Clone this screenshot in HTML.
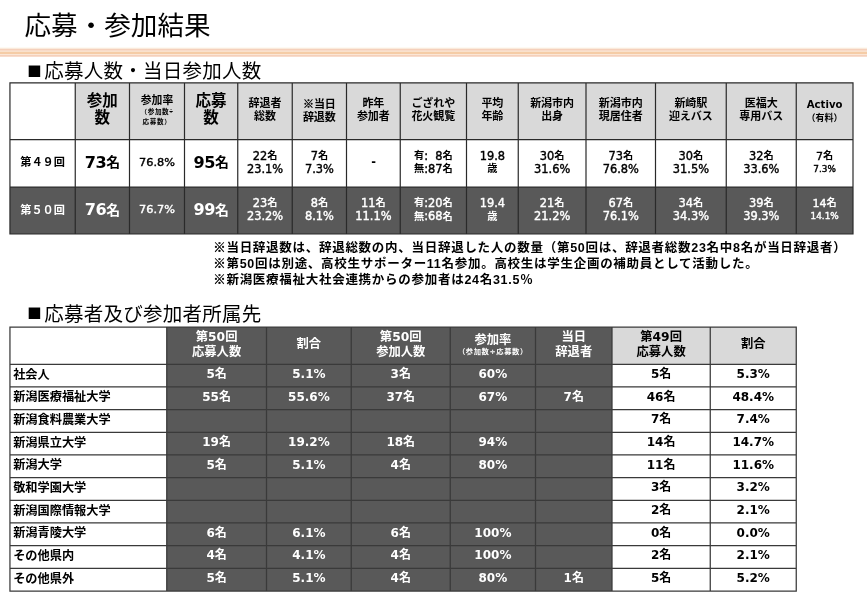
<!DOCTYPE html>
<html lang="ja"><head><meta charset="utf-8"><title>応募・参加結果</title>
<style>
html,body{margin:0;padding:0}
body{width:867px;height:600px;position:relative;overflow:hidden;background:#fff;color:#000;
font-family:"Liberation Sans","Noto Sans CJK JP",sans-serif}
.c{position:absolute;display:flex;align-items:center;justify-content:center;text-align:center;font-weight:bold;white-space:nowrap}
.c>div{position:relative}
.n{font-family:"DejaVu Sans","Noto Sans CJK JP",sans-serif}
.t1{letter-spacing:-0.5px}
.m{font-weight:normal;letter-spacing:0;-webkit-text-stroke:0.4px currentColor}
.m .j{font-weight:bold;-webkit-text-stroke:0}
.t1 .j{letter-spacing:0;position:relative;top:-0.8px}
.j{font-family:"Liberation Sans","Noto Sans CJK JP",sans-serif}
.w{color:#fff}
.k{font-family:"Noto Sans CJK JP",sans-serif;-webkit-text-stroke:0.35px currentColor}
.l{justify-content:flex-start;text-align:left}
h1,h2,p{margin:0;position:absolute;white-space:nowrap;font-weight:normal}
h1,h2{font-family:"Noto Sans CJK JP",sans-serif}
.sq{display:inline-block;width:19.7px;font-size:14.4px;text-align:center;vertical-align:2.7px;letter-spacing:0;margin-left:-0.5px}
.sp{display:inline-block;width:7.4px}
svg{position:absolute;left:0;top:0}
</style></head><body>
<svg width="867" height="600" viewBox="0 0 867 600">
<rect x="0" y="47.4" width="867" height="1.4" fill="#fef7ec"/>
<rect x="0" y="48.6" width="867" height="8" fill="#fbe6d6"/>
<rect x="0" y="48.8" width="867" height="1.7" fill="#f5d0bb"/>
<rect x="0" y="51.8" width="867" height="2.2" fill="#f5cca6"/>
<rect x="0" y="55.0" width="867" height="1.6" fill="#f5d0bb"/>
<rect x="75.25" y="82.8" width="777.75" height="56.8" fill="#d9d9d9"/>
<rect x="9.95" y="187.1" width="843.05" height="46.900000000000006" fill="#595959"/>
<rect x="166.75" y="327.1" width="445.25" height="263.9" fill="#595959"/>
<rect x="612" y="327.1" width="184.25" height="37.19999999999999" fill="#d9d9d9"/>
<path d="M9.95 82.2V234.6M75.25 82.2V234.6M129.5 82.2V234.6M184.5 82.2V234.6M237.75 82.2V234.6M292.25 82.2V234.6M346.5 82.2V234.6M400.25 82.2V234.6M466.5 82.2V234.6M518.25 82.2V234.6M586 82.2V234.6M655.5 82.2V234.6M726.25 82.2V234.6M796.25 82.2V234.6M853 82.2V234.6M9.35 82.8H853.6M9.35 139.6H853.6M9.35 187.1H853.6M9.35 234H853.6" stroke="#2a2a2a" stroke-width="1.2" fill="none"/>
<path d="M9.95 326.475V591.625M166.75 326.475V591.625M266.5 326.475V591.625M351.25 326.475V591.625M450.25 326.475V591.625M535.5 326.475V591.625M612 326.475V591.625M710.25 326.475V591.625M796.25 326.475V591.625M9.325 327.1H796.875M9.325 364.3H796.875M9.325 386.97H796.875M9.325 409.64H796.875M9.325 432.31H796.875M9.325 454.98H796.875M9.325 477.65H796.875M9.325 500.32H796.875M9.325 522.99H796.875M9.325 545.66H796.875M9.325 568.33H796.875M9.325 591.0H796.875" stroke="#3a3a3a" stroke-width="1.25" fill="none"/>
</svg>
<h1 style="left:24.5px;top:3px;transform:translateY(0.5px);font-size:26.6px;line-height:40px">応募・参加結果</h1>
<h2 style="left:25px;top:56px;transform:translateY(0.6px);font-size:19.5px;letter-spacing:0.25px;line-height:26px"><span class="sq" style="vertical-align:1.3px">■</span>応募人数・当日参加人数</h2>
<h2 style="left:25px;top:299px;transform:translateY(0.5px);font-size:19.5px;letter-spacing:0.25px;line-height:26px"><span class="sq" style="vertical-align:2.2px">■</span>応募者及び参加者所属先</h2>
<div class="c " style="left:75.25px;top:82.8px;width:54.25px;height:56.8px"><div style="top:-1.8px;font-size:15.5px;line-height:17.6px">参加<br>数</div></div>
<div class="c " style="left:129.5px;top:82.8px;width:55.0px;height:56.8px"><div style="top:-1.2px;font-size:10.8px;line-height:12px">参加率<br><span style="font-size:6.6px;letter-spacing:0.6px;line-height:9.4px;display:block;margin-top:1.5px">（参加数÷<br>応募数）</span></div></div>
<div class="c " style="left:184.5px;top:82.8px;width:53.25px;height:56.8px"><div style="top:-1.8px;font-size:15.5px;line-height:17.6px">応募<br>数</div></div>
<div class="c " style="left:237.75px;top:82.8px;width:54.5px;height:56.8px"><div style="top:-0.9px;font-size:11px;line-height:13.2px">辞退者<br>総数</div></div>
<div class="c " style="left:292.25px;top:82.8px;width:54.25px;height:56.8px"><div style="top:-0.9px;font-size:11px;line-height:13.2px"><span class="k">※</span>当日<br>辞退数</div></div>
<div class="c " style="left:346.5px;top:82.8px;width:53.75px;height:56.8px"><div style="top:-0.9px;font-size:11px;line-height:13.2px">昨年<br>参加者</div></div>
<div class="c " style="left:400.25px;top:82.8px;width:66.25px;height:56.8px"><div style="top:-0.9px;font-size:11px;line-height:13.2px">ござれや<br>花火観覧</div></div>
<div class="c " style="left:466.5px;top:82.8px;width:51.75px;height:56.8px"><div style="top:-0.9px;font-size:11px;line-height:13.2px">平均<br>年齢</div></div>
<div class="c " style="left:518.25px;top:82.8px;width:67.75px;height:56.8px"><div style="top:-0.9px;font-size:11px;line-height:13.2px">新潟市内<br>出身</div></div>
<div class="c " style="left:586px;top:82.8px;width:69.5px;height:56.8px"><div style="top:-0.9px;font-size:11px;line-height:13.2px">新潟市内<br>現居住者</div></div>
<div class="c " style="left:655.5px;top:82.8px;width:70.75px;height:56.8px"><div style="top:-0.9px;font-size:11px;line-height:13.2px">新崎駅<br>迎えバス</div></div>
<div class="c " style="left:726.25px;top:82.8px;width:70.0px;height:56.8px"><div style="top:-0.9px;font-size:11px;line-height:13.2px">医福大<br>専用バス</div></div>
<div class="c " style="left:796.25px;top:82.8px;width:56.75px;height:56.8px"><div style="top:0.5px;font-size:11px;line-height:13.2px"><span class="n" style="display:block;font-size:10.1px;line-height:12.9px">Activo</span><span style="display:block;font-size:9px;line-height:12.9px">（有料）</span></div></div>
<div class="c " style="left:9.95px;top:139.6px;width:65.3px;height:47.5px"><div style="top:-1px;font-size:11.2px;line-height:14px">第４９回</div></div>
<div class="c  n t1" style="left:75.25px;top:139.6px;width:54.25px;height:47.5px"><div style="top:-0.2px;font-size:16.1px;line-height:20px">73<span class="j" style="font-size:13.9px">名</span></div></div>
<div class="c  n t1 m" style="left:129.5px;top:139.6px;width:55.0px;height:47.5px"><div style="top:-0.2px;font-size:11.3px;line-height:14px">76.8%</div></div>
<div class="c  n t1" style="left:184.5px;top:139.6px;width:53.25px;height:47.5px"><div style="top:-0.2px;font-size:16.1px;line-height:20px">95<span class="j" style="font-size:13.9px">名</span></div></div>
<div class="c  n t1 m" style="left:237.75px;top:139.6px;width:54.5px;height:47.5px"><div style="top:-0.2px;font-size:11.4px;line-height:13.5px">22<span class="j" style="font-size:10.2px">名</span><br>23.1%</div></div>
<div class="c  n t1 m" style="left:292.25px;top:139.6px;width:54.25px;height:47.5px"><div style="top:-0.2px;font-size:11.4px;line-height:13.5px">7<span class="j" style="font-size:10.2px">名</span><br>7.3%</div></div>
<div class="c  n t1" style="left:346.5px;top:139.6px;width:53.75px;height:47.5px"><div style="top:-0.2px;font-size:11.4px;line-height:13.5px">-</div></div>
<div class="c  n t1 m" style="left:400.25px;top:139.6px;width:66.25px;height:47.5px"><div style="top:-0.2px;font-size:11.4px;line-height:13.5px"><span class="j" style="font-size:10.2px">有</span>:<span class="sp"></span>8<span class="j" style="font-size:10.2px">名</span><br><span class="j" style="font-size:10.2px">無</span>:87<span class="j" style="font-size:10.2px">名</span></div></div>
<div class="c  n t1 m" style="left:466.5px;top:139.6px;width:51.75px;height:47.5px"><div style="top:-0.2px;font-size:11.4px;line-height:13.5px">19.8<br><span class="j" style="font-size:10.2px">歳</span></div></div>
<div class="c  n t1 m" style="left:518.25px;top:139.6px;width:67.75px;height:47.5px"><div style="top:-0.2px;font-size:11.4px;line-height:13.5px">30<span class="j" style="font-size:10.2px">名</span><br>31.6%</div></div>
<div class="c  n t1 m" style="left:586px;top:139.6px;width:69.5px;height:47.5px"><div style="top:-0.2px;font-size:11.4px;line-height:13.5px">73<span class="j" style="font-size:10.2px">名</span><br>76.8%</div></div>
<div class="c  n t1 m" style="left:655.5px;top:139.6px;width:70.75px;height:47.5px"><div style="top:-0.2px;font-size:11.4px;line-height:13.5px">30<span class="j" style="font-size:10.2px">名</span><br>31.5%</div></div>
<div class="c  n t1 m" style="left:726.25px;top:139.6px;width:70.0px;height:47.5px"><div style="top:-0.2px;font-size:11.4px;line-height:13.5px">32<span class="j" style="font-size:10.2px">名</span><br>33.6%</div></div>
<div class="c  n t1 m" style="left:796.25px;top:139.6px;width:56.75px;height:47.5px"><div style="top:-0.2px;font-size:11px;line-height:12.6px">7<span class="j" style="font-size:10.2px">名</span><br><span style="font-size:8.9px">7.3%</span></div></div>
<div class="c w" style="left:9.95px;top:187.1px;width:65.3px;height:46.9px"><div style="top:-1px;font-size:11.2px;line-height:14px">第５０回</div></div>
<div class="c w n t1" style="left:75.25px;top:187.1px;width:54.25px;height:46.9px"><div style="top:-0.2px;font-size:16.1px;line-height:20px">76<span class="j" style="font-size:13.9px">名</span></div></div>
<div class="c w n t1 m" style="left:129.5px;top:187.1px;width:55.0px;height:46.9px"><div style="top:-0.2px;font-size:11.3px;line-height:14px">76.7%</div></div>
<div class="c w n t1" style="left:184.5px;top:187.1px;width:53.25px;height:46.9px"><div style="top:-0.2px;font-size:16.1px;line-height:20px">99<span class="j" style="font-size:13.9px">名</span></div></div>
<div class="c w n t1 m" style="left:237.75px;top:187.1px;width:54.5px;height:46.9px"><div style="top:-0.2px;font-size:11.4px;line-height:13.5px">23<span class="j" style="font-size:10.2px">名</span><br>23.2%</div></div>
<div class="c w n t1 m" style="left:292.25px;top:187.1px;width:54.25px;height:46.9px"><div style="top:-0.2px;font-size:11.4px;line-height:13.5px">8<span class="j" style="font-size:10.2px">名</span><br>8.1%</div></div>
<div class="c w n t1 m" style="left:346.5px;top:187.1px;width:53.75px;height:46.9px"><div style="top:-0.2px;font-size:11.4px;line-height:13.5px">11<span class="j" style="font-size:10.2px">名</span><br>11.1%</div></div>
<div class="c w n t1 m" style="left:400.25px;top:187.1px;width:66.25px;height:46.9px"><div style="top:-0.2px;font-size:11.4px;line-height:13.5px"><span class="j" style="font-size:10.2px">有</span>:20<span class="j" style="font-size:10.2px">名</span><br><span class="j" style="font-size:10.2px">無</span>:68<span class="j" style="font-size:10.2px">名</span></div></div>
<div class="c w n t1 m" style="left:466.5px;top:187.1px;width:51.75px;height:46.9px"><div style="top:-0.2px;font-size:11.4px;line-height:13.5px">19.4<br><span class="j" style="font-size:10.2px">歳</span></div></div>
<div class="c w n t1 m" style="left:518.25px;top:187.1px;width:67.75px;height:46.9px"><div style="top:-0.2px;font-size:11.4px;line-height:13.5px">21<span class="j" style="font-size:10.2px">名</span><br>21.2%</div></div>
<div class="c w n t1 m" style="left:586px;top:187.1px;width:69.5px;height:46.9px"><div style="top:-0.2px;font-size:11.4px;line-height:13.5px">67<span class="j" style="font-size:10.2px">名</span><br>76.1%</div></div>
<div class="c w n t1 m" style="left:655.5px;top:187.1px;width:70.75px;height:46.9px"><div style="top:-0.2px;font-size:11.4px;line-height:13.5px">34<span class="j" style="font-size:10.2px">名</span><br>34.3%</div></div>
<div class="c w n t1 m" style="left:726.25px;top:187.1px;width:70.0px;height:46.9px"><div style="top:-0.2px;font-size:11.4px;line-height:13.5px">39<span class="j" style="font-size:10.2px">名</span><br>39.3%</div></div>
<div class="c w n t1 m" style="left:796.25px;top:187.1px;width:56.75px;height:46.9px"><div style="top:-0.2px;font-size:11px;line-height:12.6px">14<span class="j" style="font-size:10.2px">名</span><br><span style="font-size:8.9px">14.1%</span></div></div>
<p style="left:213.2px;top:238.7px;font-size:12.5px;letter-spacing:0.72px;line-height:16px;font-weight:bold"><span class="k">※</span>当日辞退数は、辞退総数の内、当日辞退した人の数量（第50回は、辞退者総数23名中8名が当日辞退者）</p>
<p style="left:213.2px;top:254.7px;font-size:12.5px;letter-spacing:0.72px;line-height:16px;font-weight:bold"><span class="k">※</span>第50回は別途、高校生サポーター11名参加。高校生は学生企画の補助員として活動した。</p>
<p style="left:213.2px;top:270.7px;font-size:12.5px;letter-spacing:0.72px;line-height:16px;font-weight:bold"><span class="k">※</span>新潟医療福祉大社会連携からの参加者は24名31.5％</p>
<div class="c w n" style="left:166.75px;top:327.1px;width:99.75px;height:37.2px"><div style="top:-1.2px;font-size:12.3px;line-height:14.6px"><span class="j">第</span>50<span class="j">回</span><br><span class="j">応募人数</span></div></div>
<div class="c w n" style="left:266.5px;top:327.1px;width:84.75px;height:37.2px"><div style="top:-1.2px;font-size:12.3px;line-height:14.6px"><span class="j">割合</span></div></div>
<div class="c w n" style="left:351.25px;top:327.1px;width:99.0px;height:37.2px"><div style="top:-1.2px;font-size:12.3px;line-height:14.6px"><span class="j">第</span>50<span class="j">回</span><br><span class="j">参加人数</span></div></div>
<div class="c w n" style="left:450.25px;top:327.1px;width:85.25px;height:37.2px"><div style="top:-1.2px;font-size:12.3px;line-height:14.6px"><span class="j">参加率</span><br><span style="font-size:7.3px;letter-spacing:0.6px;line-height:9px;display:block"><span class="j">（参加数</span>÷<span class="j">応募数）</span></span></div></div>
<div class="c w n" style="left:535.5px;top:327.1px;width:76.5px;height:37.2px"><div style="top:-1.2px;font-size:12.3px;line-height:14.6px"><span class="j">当日</span><br><span class="j">辞退者</span></div></div>
<div class="c n" style="left:612px;top:327.1px;width:98.25px;height:37.2px"><div style="top:-1.2px;font-size:12.3px;line-height:14.6px"><span class="j">第</span>49<span class="j">回</span><br><span class="j">応募人数</span></div></div>
<div class="c n" style="left:710.25px;top:327.1px;width:86.0px;height:37.2px"><div style="top:-1.2px;font-size:12.3px;line-height:14.6px"><span class="j">割合</span></div></div>
<div class="c l" style="left:13.149999999999999px;top:364.3px;width:150px;height:22.67px"><div style="top:-0.9px;font-size:12.2px;line-height:16px">社会人</div></div>
<div class="c w n" style="left:166.75px;top:364.3px;width:99.75px;height:22.67px"><div style="top:-1.6px;font-size:12px;line-height:16px">5<span class="j">名</span></div></div>
<div class="c w n" style="left:266.5px;top:364.3px;width:84.75px;height:22.67px"><div style="top:-1.6px;font-size:12px;line-height:16px">5.1%</div></div>
<div class="c w n" style="left:351.25px;top:364.3px;width:99.0px;height:22.67px"><div style="top:-1.6px;font-size:12px;line-height:16px">3<span class="j">名</span></div></div>
<div class="c w n" style="left:450.25px;top:364.3px;width:85.25px;height:22.67px"><div style="top:-1.6px;font-size:12px;line-height:16px">60%</div></div>
<div class="c n" style="left:612px;top:364.3px;width:98.25px;height:22.67px"><div style="top:-1.6px;font-size:12px;line-height:16px">5<span class="j">名</span></div></div>
<div class="c n" style="left:710.25px;top:364.3px;width:86.0px;height:22.67px"><div style="top:-1.6px;font-size:12px;line-height:16px">5.3%</div></div>
<div class="c l" style="left:13.149999999999999px;top:386.97px;width:150px;height:22.67px"><div style="top:-0.9px;font-size:12.2px;line-height:16px">新潟医療福祉大学</div></div>
<div class="c w n" style="left:166.75px;top:386.97px;width:99.75px;height:22.67px"><div style="top:-1.6px;font-size:12px;line-height:16px">55<span class="j">名</span></div></div>
<div class="c w n" style="left:266.5px;top:386.97px;width:84.75px;height:22.67px"><div style="top:-1.6px;font-size:12px;line-height:16px">55.6%</div></div>
<div class="c w n" style="left:351.25px;top:386.97px;width:99.0px;height:22.67px"><div style="top:-1.6px;font-size:12px;line-height:16px">37<span class="j">名</span></div></div>
<div class="c w n" style="left:450.25px;top:386.97px;width:85.25px;height:22.67px"><div style="top:-1.6px;font-size:12px;line-height:16px">67%</div></div>
<div class="c w n" style="left:535.5px;top:386.97px;width:76.5px;height:22.67px"><div style="top:-1.6px;font-size:12px;line-height:16px">7<span class="j">名</span></div></div>
<div class="c n" style="left:612px;top:386.97px;width:98.25px;height:22.67px"><div style="top:-1.6px;font-size:12px;line-height:16px">46<span class="j">名</span></div></div>
<div class="c n" style="left:710.25px;top:386.97px;width:86.0px;height:22.67px"><div style="top:-1.6px;font-size:12px;line-height:16px">48.4%</div></div>
<div class="c l" style="left:13.149999999999999px;top:409.64px;width:150px;height:22.67px"><div style="top:-0.9px;font-size:12.2px;line-height:16px">新潟食料農業大学</div></div>
<div class="c n" style="left:612px;top:409.64px;width:98.25px;height:22.67px"><div style="top:-1.6px;font-size:12px;line-height:16px">7<span class="j">名</span></div></div>
<div class="c n" style="left:710.25px;top:409.64px;width:86.0px;height:22.67px"><div style="top:-1.6px;font-size:12px;line-height:16px">7.4%</div></div>
<div class="c l" style="left:13.149999999999999px;top:432.31px;width:150px;height:22.67px"><div style="top:-0.9px;font-size:12.2px;line-height:16px">新潟県立大学</div></div>
<div class="c w n" style="left:166.75px;top:432.31px;width:99.75px;height:22.67px"><div style="top:-1.6px;font-size:12px;line-height:16px">19<span class="j">名</span></div></div>
<div class="c w n" style="left:266.5px;top:432.31px;width:84.75px;height:22.67px"><div style="top:-1.6px;font-size:12px;line-height:16px">19.2%</div></div>
<div class="c w n" style="left:351.25px;top:432.31px;width:99.0px;height:22.67px"><div style="top:-1.6px;font-size:12px;line-height:16px">18<span class="j">名</span></div></div>
<div class="c w n" style="left:450.25px;top:432.31px;width:85.25px;height:22.67px"><div style="top:-1.6px;font-size:12px;line-height:16px">94%</div></div>
<div class="c n" style="left:612px;top:432.31px;width:98.25px;height:22.67px"><div style="top:-1.6px;font-size:12px;line-height:16px">14<span class="j">名</span></div></div>
<div class="c n" style="left:710.25px;top:432.31px;width:86.0px;height:22.67px"><div style="top:-1.6px;font-size:12px;line-height:16px">14.7%</div></div>
<div class="c l" style="left:13.149999999999999px;top:454.98px;width:150px;height:22.67px"><div style="top:-0.9px;font-size:12.2px;line-height:16px">新潟大学</div></div>
<div class="c w n" style="left:166.75px;top:454.98px;width:99.75px;height:22.67px"><div style="top:-1.6px;font-size:12px;line-height:16px">5<span class="j">名</span></div></div>
<div class="c w n" style="left:266.5px;top:454.98px;width:84.75px;height:22.67px"><div style="top:-1.6px;font-size:12px;line-height:16px">5.1%</div></div>
<div class="c w n" style="left:351.25px;top:454.98px;width:99.0px;height:22.67px"><div style="top:-1.6px;font-size:12px;line-height:16px">4<span class="j">名</span></div></div>
<div class="c w n" style="left:450.25px;top:454.98px;width:85.25px;height:22.67px"><div style="top:-1.6px;font-size:12px;line-height:16px">80%</div></div>
<div class="c n" style="left:612px;top:454.98px;width:98.25px;height:22.67px"><div style="top:-1.6px;font-size:12px;line-height:16px">11<span class="j">名</span></div></div>
<div class="c n" style="left:710.25px;top:454.98px;width:86.0px;height:22.67px"><div style="top:-1.6px;font-size:12px;line-height:16px">11.6%</div></div>
<div class="c l" style="left:13.149999999999999px;top:477.65px;width:150px;height:22.67px"><div style="top:-0.9px;font-size:12.2px;line-height:16px">敬和学園大学</div></div>
<div class="c n" style="left:612px;top:477.65px;width:98.25px;height:22.67px"><div style="top:-1.6px;font-size:12px;line-height:16px">3<span class="j">名</span></div></div>
<div class="c n" style="left:710.25px;top:477.65px;width:86.0px;height:22.67px"><div style="top:-1.6px;font-size:12px;line-height:16px">3.2%</div></div>
<div class="c l" style="left:13.149999999999999px;top:500.32px;width:150px;height:22.67px"><div style="top:-0.9px;font-size:12.2px;line-height:16px">新潟国際情報大学</div></div>
<div class="c n" style="left:612px;top:500.32px;width:98.25px;height:22.67px"><div style="top:-1.6px;font-size:12px;line-height:16px">2<span class="j">名</span></div></div>
<div class="c n" style="left:710.25px;top:500.32px;width:86.0px;height:22.67px"><div style="top:-1.6px;font-size:12px;line-height:16px">2.1%</div></div>
<div class="c l" style="left:13.149999999999999px;top:522.99px;width:150px;height:22.67px"><div style="top:-0.9px;font-size:12.2px;line-height:16px">新潟青陵大学</div></div>
<div class="c w n" style="left:166.75px;top:522.99px;width:99.75px;height:22.67px"><div style="top:-1.6px;font-size:12px;line-height:16px">6<span class="j">名</span></div></div>
<div class="c w n" style="left:266.5px;top:522.99px;width:84.75px;height:22.67px"><div style="top:-1.6px;font-size:12px;line-height:16px">6.1%</div></div>
<div class="c w n" style="left:351.25px;top:522.99px;width:99.0px;height:22.67px"><div style="top:-1.6px;font-size:12px;line-height:16px">6<span class="j">名</span></div></div>
<div class="c w n" style="left:450.25px;top:522.99px;width:85.25px;height:22.67px"><div style="top:-1.6px;font-size:12px;line-height:16px">100%</div></div>
<div class="c n" style="left:612px;top:522.99px;width:98.25px;height:22.67px"><div style="top:-1.6px;font-size:12px;line-height:16px">0<span class="j">名</span></div></div>
<div class="c n" style="left:710.25px;top:522.99px;width:86.0px;height:22.67px"><div style="top:-1.6px;font-size:12px;line-height:16px">0.0%</div></div>
<div class="c l" style="left:13.149999999999999px;top:545.66px;width:150px;height:22.67px"><div style="top:-0.9px;font-size:12.2px;line-height:16px">その他県内</div></div>
<div class="c w n" style="left:166.75px;top:545.66px;width:99.75px;height:22.67px"><div style="top:-1.6px;font-size:12px;line-height:16px">4<span class="j">名</span></div></div>
<div class="c w n" style="left:266.5px;top:545.66px;width:84.75px;height:22.67px"><div style="top:-1.6px;font-size:12px;line-height:16px">4.1%</div></div>
<div class="c w n" style="left:351.25px;top:545.66px;width:99.0px;height:22.67px"><div style="top:-1.6px;font-size:12px;line-height:16px">4<span class="j">名</span></div></div>
<div class="c w n" style="left:450.25px;top:545.66px;width:85.25px;height:22.67px"><div style="top:-1.6px;font-size:12px;line-height:16px">100%</div></div>
<div class="c n" style="left:612px;top:545.66px;width:98.25px;height:22.67px"><div style="top:-1.6px;font-size:12px;line-height:16px">2<span class="j">名</span></div></div>
<div class="c n" style="left:710.25px;top:545.66px;width:86.0px;height:22.67px"><div style="top:-1.6px;font-size:12px;line-height:16px">2.1%</div></div>
<div class="c l" style="left:13.149999999999999px;top:568.33px;width:150px;height:22.67px"><div style="top:-0.9px;font-size:12.2px;line-height:16px">その他県外</div></div>
<div class="c w n" style="left:166.75px;top:568.33px;width:99.75px;height:22.67px"><div style="top:-1.6px;font-size:12px;line-height:16px">5<span class="j">名</span></div></div>
<div class="c w n" style="left:266.5px;top:568.33px;width:84.75px;height:22.67px"><div style="top:-1.6px;font-size:12px;line-height:16px">5.1%</div></div>
<div class="c w n" style="left:351.25px;top:568.33px;width:99.0px;height:22.67px"><div style="top:-1.6px;font-size:12px;line-height:16px">4<span class="j">名</span></div></div>
<div class="c w n" style="left:450.25px;top:568.33px;width:85.25px;height:22.67px"><div style="top:-1.6px;font-size:12px;line-height:16px">80%</div></div>
<div class="c w n" style="left:535.5px;top:568.33px;width:76.5px;height:22.67px"><div style="top:-1.6px;font-size:12px;line-height:16px">1<span class="j">名</span></div></div>
<div class="c n" style="left:612px;top:568.33px;width:98.25px;height:22.67px"><div style="top:-1.6px;font-size:12px;line-height:16px">5<span class="j">名</span></div></div>
<div class="c n" style="left:710.25px;top:568.33px;width:86.0px;height:22.67px"><div style="top:-1.6px;font-size:12px;line-height:16px">5.2%</div></div>
</body></html>
